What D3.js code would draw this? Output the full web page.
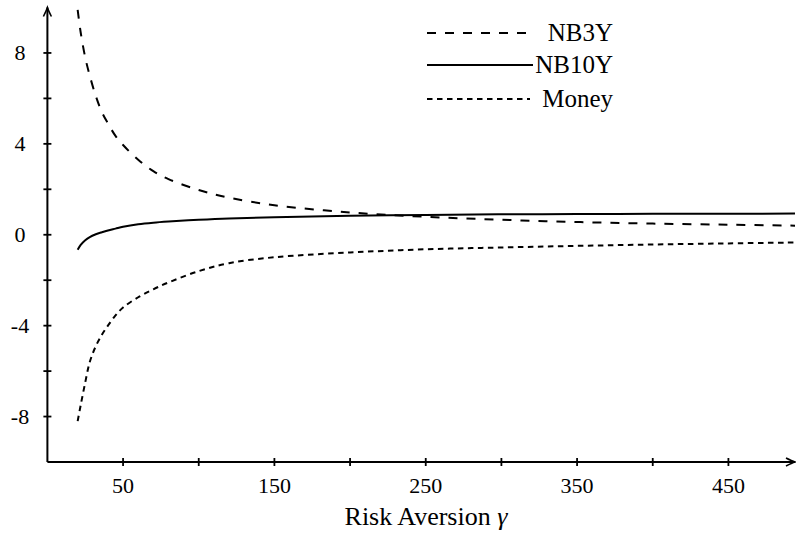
<!DOCTYPE html>
<html>
<head>
<meta charset="utf-8">
<script src="https://cdn.jsdelivr.net/npm/d3@7"></script>
<style>
  body { margin: 0; background: #fff; }
</style>
</head>
<body>
<div id="chart"></div>
<script>
// values
var gamma = [20, 22, 25, 28, 32, 36, 40, 45, 50, 60, 70, 80, 100, 120, 150, 200, 250, 300, 350, 400, 450, 494];
var nb3y  = [9.9, 8.9, 7.8, 7.0, 6.1, 5.4, 4.9, 4.35, 3.95, 3.3, 2.8, 2.45, 1.97, 1.63, 1.3, 0.98, 0.79, 0.66, 0.56, 0.49, 0.44, 0.40];
var nb10y = [-0.66, -0.45, -0.24, -0.1, 0.02, 0.11, 0.19, 0.27, 0.35, 0.46, 0.53, 0.58, 0.66, 0.72, 0.77, 0.84, 0.87, 0.9, 0.91, 0.92, 0.92, 0.93];
var money = [-8.2, -7.5, -6.5, -5.6, -4.9, -4.4, -4.0, -3.55, -3.2, -2.75, -2.4, -2.1, -1.6, -1.25, -0.99, -0.78, -0.64, -0.56, -0.49, -0.43, -0.38, -0.34];

var xTicks = [50, 100, 150, 200, 250, 300, 350, 400, 450];
var xLabels = [50, 150, 250, 350, 450];
var yTicks = [-8, -6, -4, -2, 0, 2, 4, 6, 8];
var yLabels = [-8, -4, 0, 4, 8];

var seriesNames = ['NB3Y', 'NB10Y', 'Money'];
var seriesVals = [nb3y, nb10y, money];
var dashes = ['9,9', null, '5.5,4.5'];

var width = 796, height = 533;
var serif = '"Liberation Serif", "DejaVu Serif", serif';

var svg = d3.select('#chart')
  .append('svg')
    .attr('width', width)
    .attr('height', height)
    .style('font-family', serif);

var x = d3.scaleLinear().domain([0, 494]).range([47.4, 795]);
var y = d3.scaleLinear().domain([-10, 10]).range([462, 7.5]);

// axes lines
svg.append('line')
  .attr('x1', x(0)).attr('x2', x(494))
  .attr('y1', y(-10)).attr('y2', y(-10))
  .style('stroke', '#000').style('stroke-width', 2);
svg.append('line')
  .attr('x1', x(0)).attr('x2', x(0))
  .attr('y1', y(-10)).attr('y2', y(10))
  .style('stroke', '#000').style('stroke-width', 2);

// arrow heads
svg.append('path')
  .attr('d', 'M-4,9 Q-1,3 0,0 Q1,3 4,9')
  .attr('transform', `translate(${x(0)},${y(10)})`)
  .style('fill', 'none').style('stroke', '#000').style('stroke-width', 1.6);
svg.append('path')
  .attr('d', 'M-4,9 Q-1,3 0,0 Q1,3 4,9')
  .attr('transform', `translate(${x(494)},${y(-10)}) rotate(90)`)
  .style('fill', 'none').style('stroke', '#000').style('stroke-width', 1.6);

// ticks
svg.selectAll('.xt')
  .data(xTicks)
  .enter()
  .append('line')
    .attr('x1', d => x(d)).attr('x2', d => x(d))
    .attr('y1', y(-10) - 4).attr('y2', y(-10) + 4)
    .style('stroke', '#000').style('stroke-width', 1.8);

svg.selectAll('.yt')
  .data(yTicks)
  .enter()
  .append('line')
    .attr('x1', x(0) - 4).attr('x2', x(0) + 4)
    .attr('y1', d => y(d)).attr('y2', d => y(d))
    .style('stroke', '#000').style('stroke-width', 1.8);

svg.selectAll('.xl')
  .data(xLabels)
  .enter()
  .append('text')
    .attr('x', d => x(d))
    .attr('y', y(-10) + 31)
    .attr('text-anchor', 'middle')
    .style('font-family', serif)
    .style('font-size', '22px')
    .text(d => d);

svg.selectAll('.yl')
  .data(yLabels)
  .enter()
  .append('text')
    .attr('x', 20)
    .attr('y', d => y(d) + 7.5)
    .attr('text-anchor', 'middle')
    .style('font-family', serif)
    .style('font-size', '22px')
    .text(d => d);

// axis title
var title = svg.append('text')
  .attr('x', 426)
  .attr('y', 525)
  .attr('text-anchor', 'middle')
  .style('font-family', serif)
  .style('font-size', '26px');
title.append('tspan').text('Risk Aversion ');
title.append('tspan').style('font-style', 'italic').text('γ');

// curves
var line = d3.line()
  .x((d, i) => x(gamma[i]))
  .y(d => y(d))
  .curve(d3.curveCatmullRom.alpha(0.5));

seriesVals.forEach(function(vals, k) {
  svg.append('path')
    .datum(vals)
    .attr('d', line)
    .style('fill', 'none')
    .style('stroke', '#000')
    .style('stroke-width', 2)
    .style('stroke-dasharray', dashes[k]);
});

// legend
var legY = [33, 65, 99];
seriesNames.forEach(function(name, k) {
  svg.append('line')
    .attr('x1', 427).attr('x2', k == 1 ? 533 : 530)
    .attr('y1', legY[k]).attr('y2', legY[k])
    .style('stroke', '#000')
    .style('stroke-width', 2)
    .style('stroke-dasharray', dashes[k]);
  svg.append('text')
    .attr('x', 613)
    .attr('y', legY[k] + 8)
    .attr('text-anchor', 'end')
    .style('font-family', serif)
    .style('font-size', '25px')
    .text(name);
});
</script>
</body>
</html>
